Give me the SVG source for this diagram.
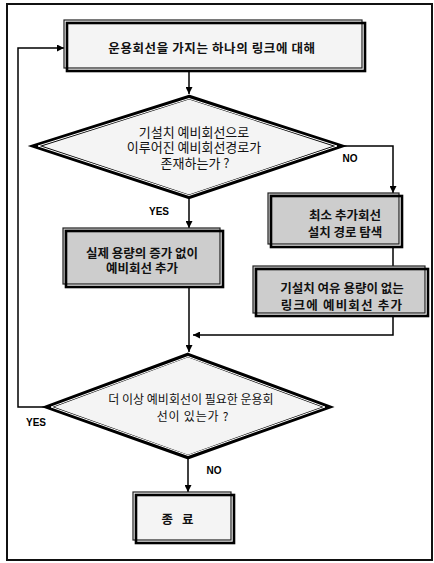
<svg xmlns="http://www.w3.org/2000/svg" width="434" height="563" viewBox="0 0 434 563">
<defs>
<marker id="ah" viewBox="0 0 10 10" refX="10" refY="5" markerWidth="7" markerHeight="7" markerUnits="userSpaceOnUse" orient="auto">
<path d="M0,0 L10,5 L0,10 z" fill="#000"/>
</marker>
<style>
.frame{fill:none;stroke:#111;stroke-width:2}
.thin{stroke:#222;stroke-width:1.2}
.thick{fill:none;stroke:#000;stroke-width:2.6}
.light{fill:#f4f4f4}
.gray{fill:#cdcdcd}
.dia{fill:#f4f4f4;stroke:#000;stroke-width:4.5;stroke-linejoin:miter}
.diain{fill:none;stroke:#fff;stroke-width:1}
.t{font-family:"Noto Sans CJK KR","Noto Sans",sans-serif;font-size:13px;fill:#111;text-anchor:middle;dominant-baseline:central}
.b{font-weight:bold;font-size:12.5px}
.t12{font-size:12px}
.lbl{font-family:"Liberation Sans",Arial,sans-serif;font-weight:bold;font-size:10px;fill:#000;text-anchor:middle;dominant-baseline:central}
.c{fill:none;stroke:#000;stroke-width:1.5}
</style>
</defs>
<rect class="frame" x="7" y="4" width="425" height="556"/>
<g id="connectors">
<path class="c" d="M189,71 V94" marker-end="url(#ah)"/>
<path class="c" d="M341,146 H393 V193" marker-end="url(#ah)"/>
<path class="c" d="M189,199 V228" marker-end="url(#ah)"/>
<path class="c" d="M393,247 V266"/>
<path class="c" d="M393,316 V335 H193" marker-end="url(#ah)"/>
<path class="c" d="M189,287 V352" marker-end="url(#ah)"/>
<path class="c" d="M46,407 H18 V48 H64" marker-end="url(#ah)"/>
<path class="c" d="M188,459 V492" marker-end="url(#ah)"/>
</g>
<g id="start">
<rect class="light thin" x="64" y="20" width="298" height="48"/>
<rect class="thick" x="67" y="23" width="298" height="48"/>
<text class="t b" x="212" y="47" letter-spacing="0.6">운용회선을 가지는 하나의 링크에 대해</text>
</g>
<g id="decision1">
<polygon class="dia" points="189,97 340,146 189,197 35,146"/>
<polygon class="diain" points="189,98.5 337,146 189,195.5 38,146"/>
<text class="t" x="194" y="131">기설치 예비회선으로</text>
<text class="t" x="194" y="146">이루어진 예비회선경로가</text>
<text class="t" x="195" y="162">존재하는가 ?</text>
</g>
<text class="lbl" x="350" y="158">NO</text>
<text class="lbl" x="159" y="211">YES</text>
<g id="add-spare">
<rect class="gray thin" x="63" y="228" width="157" height="56"/>
<rect class="thick" x="66" y="231" width="157" height="56"/>
<text class="t b" x="142" y="252">실제 용량의 증가 없이</text>
<text class="t b" x="142" y="267">예비회선 추가</text>
</g>
<g id="search-path">
<rect class="gray thin" x="268" y="193" width="131" height="51"/>
<rect class="thick" x="271" y="196" width="131" height="51"/>
<text class="t b" x="345" y="214">최소 추가회선</text>
<text class="t b" x="345" y="231">설치 경로 탐색</text>
</g>
<g id="add-link">
<rect class="gray thin" x="253" y="266" width="172" height="47"/>
<rect class="thick" x="256" y="269" width="172" height="47"/>
<text class="t b" x="342" y="287">기설치 여유 용량이 없는</text>
<text class="t b" x="342" y="304" letter-spacing="1.2">링크에 예비회선 추가</text>
</g>
<g id="decision2">
<polygon class="dia" points="188,355 328,407 188,457 48,407"/>
<polygon class="diain" points="188,356.5 325,407 188,455.5 51,407"/>
<text class="t t12" x="191" y="398">더 이상 예비회선이 필요한 운용회</text>
<text class="t t12" x="193" y="415" letter-spacing="0.8">선이 있는가 ?</text>
</g>
<text class="lbl" x="36" y="422">YES</text>
<text class="lbl" x="214" y="470">NO</text>
<g id="end">
<rect class="light thin" x="133" y="492" width="98" height="48"/>
<rect class="thick" x="136" y="495" width="98" height="48"/>
<text class="t b" x="179" y="518" letter-spacing="3">종 료</text>
</g>
</svg>
